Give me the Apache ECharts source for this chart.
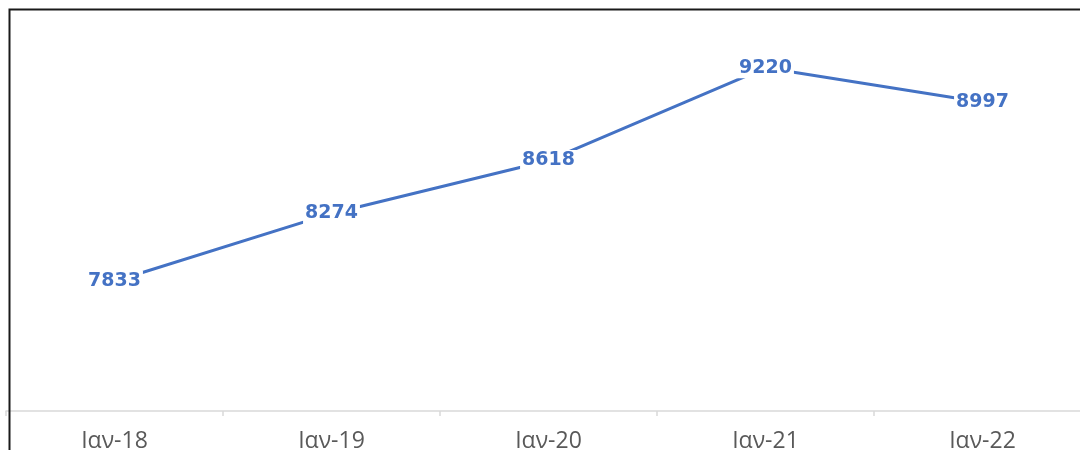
<!DOCTYPE html>
<html>
<head>
<meta charset="utf-8">
<script src="https://cdn.jsdelivr.net/npm/echarts@6/dist/echarts.min.js"></script>
<style>html,body{margin:0;padding:0;background:#fff;}#c{width:1080px;height:450px;}</style>
</head>
<body>
<div id="c"></div>
<script>
var categories = ['Ιαν-18', 'Ιαν-19', 'Ιαν-20', 'Ιαν-21', 'Ιαν-22'];
var values = [7833, 8274, 8618, 9220, 8997];

var chart = echarts.init(document.getElementById('c'));
chart.setOption({
  animation: false,
  backgroundColor: '#ffffff',
  grid: { left: 6, right: -11, top: 24, bottom: 39, containLabel: false, outerBoundsMode: 'none' },
  xAxis: {
    type: 'category',
    data: categories,
    boundaryGap: true,
    axisLine: { show: true, lineStyle: { color: '#d9d9d9', width: 1.5 } },
    axisTick: { show: true, length: 5, interval: 0, lineStyle: { color: '#d9d9d9', width: 1.5 } },
    axisLabel: { color: '#595959', fontFamily: 'Open Sans', fontSize: 23, margin: 19, interval: 0 }
  },
  yAxis: {
    type: 'value',
    min: 6990,
    max: 9505,
    show: false,
    splitLine: { show: false }
  },
  series: [{
    type: 'line',
    data: values,
    symbol: 'circle',
    symbolSize: 0,
    lineStyle: { color: '#4472C4', width: 3 },
    itemStyle: { color: '#4472C4' },
    label: {
      show: true,
      position: 'inside',
      color: '#4472C4',
      fontFamily: 'DejaVu Sans',
      fontWeight: 'bold',
      fontSize: 19,
      backgroundColor: '#ffffff',
      padding: [1, 2]
    }
  }],
  graphic: [{
    type: 'rect',
    shape: { x: 9.5, y: 9.5, width: 1200, height: 600 },
    style: { fill: 'none', stroke: '#1a1a1a', lineWidth: 2 },
    z: 100
  }]
});
</script>
</body>
</html>
